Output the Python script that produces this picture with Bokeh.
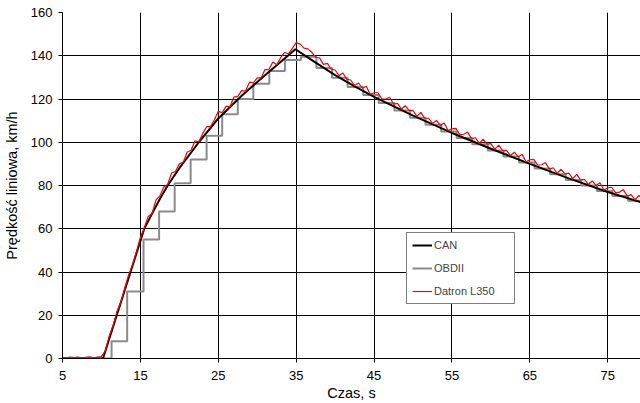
import numpy as np
from bokeh.plotting import figure
from bokeh.models import Range1d, Legend, LegendItem, FixedTicker
from bokeh.embed import file_html
from bokeh.resources import INLINE

# CAN speed (s, km/h)
can_t = [5, 10.2, 15.5, 16.5, 17.5, 18.5, 20, 22.5, 25, 28, 31, 34.9, 37.5, 40,
         42.5, 45, 50, 55, 60, 65, 70, 75, 79.5]
can_v = [0, 0, 60, 67, 73.8, 80, 88, 100, 111, 121.5, 131, 143, 136.8, 131,
         125.8, 121, 112.3, 104.3, 97, 90, 83.3, 77, 72.0]

# OBDII stepped readings (value held from each time)
obd_t = [5, 11.3, 13.3, 15.4, 17.4, 19.4, 21.45, 23.5, 25.5, 27.5, 29.5, 31.55,
         33.55, 35.6, 37.6, 39.6, 41.6, 43.6, 45.6, 47.6, 49.6, 51.6, 53.6, 55.6,
         57.6, 59.6, 61.6, 63.6, 65.6, 67.6, 69.6, 71.6, 73.6, 75.6, 77.6, 79.6]
obd_v = [0, 8, 31, 55, 68, 81, 92, 103, 113, 120, 127, 133,
         138, 139.5, 134.3, 129.8, 125.6, 121.8, 118.2, 114.7, 111.3, 108.1, 105.0, 102.0,
         99.1, 96.2, 93.4, 90.6, 87.9, 85.2, 82.6, 80.0, 77.5, 75.2, 73.0, 71.0]

# Datron L350, sampled every 0.5 s from 5.0 s
datron_v = [
    0.5, 0.3, 0.7, 0.4, 0.6, 0.2, 0.5, 0.8, 0.3, 0.6,
    0.9, 3.6, 10.4, 15.3, 21.9, 26.1, 32.7, 38.8, 43.4, 49.5,
    56.0, 60.5, 65.7, 67.1, 73.3, 75.2, 79.3, 80.5, 85.8, 86.5,
    90.0, 90.8, 95.4, 96.3, 100.6, 100.2, 104.1, 107.2, 107.3, 110.4,
    114.3, 113.7, 116.7, 116.4, 120.9, 121.2, 123.9, 123.6, 127.8, 127.5,
    129.8, 129.8, 133.6, 133.6, 137.1, 135.8, 139.1, 141.5, 140.9, 143.4,
    146.1, 145.4, 143.5, 143.2, 141.6, 139.2, 139.0, 136.0, 136.5, 133.8,
    133.4, 130.8, 132.0, 129.1, 128.8, 126.2, 127.4, 125.0, 125.9, 122.2,
    122.9, 122.9, 120.0, 120.0, 120.8, 117.6, 118.0, 115.4, 116.9, 114.6,
    114.7, 112.0, 113.8, 111.1, 111.1, 108.7, 110.1, 107.8, 108.9, 105.4,
    106.2, 106.4, 103.5, 103.7, 104.7, 101.6, 102.1, 99.5, 101.4, 99.1,
    99.4, 96.8, 98.7, 96.1, 96.2, 93.9, 95.4, 93.2, 94.4, 91.0,
    91.9, 92.1, 89.4, 89.6, 90.6, 87.6, 88.2, 85.6, 87.5, 85.4,
    85.7, 83.2, 85.1, 82.6, 82.8, 80.6, 82.1, 80.0, 81.3, 77.9,
    78.9, 79.2, 76.6, 76.9, 78.1, 75.1, 75.8, 73.4, 75.4, 73.4,
]
datron_start, datron_step = 5.0, 0.5
datron_t = [datron_start + datron_step * i for i in range(len(datron_v))]

x_ticks = [5, 15, 25, 35, 45, 55, 65, 75]
y_ticks = [0, 20, 40, 60, 80, 100, 120, 140, 160]

FONT = "Liberation Sans"

p = figure(width=640, height=403, output_backend="svg", toolbar_location=None,
           x_range=Range1d(5, 79.2), y_range=Range1d(0, 160),
           min_border_left=61, min_border_right=0, min_border_top=12,
           min_border_bottom=45)
p.background_fill_color = "white"
p.border_fill_color = "white"
p.outline_line_color = None

for ax in (p.xaxis[0], p.yaxis[0]):
    ax.axis_line_color = "black"
    ax.axis_line_width = 1
    ax.major_tick_line_color = "black"
    ax.major_tick_in = 0
    ax.major_tick_out = 4
    ax.minor_tick_line_color = None
    ax.major_label_text_font = FONT
    ax.major_label_text_font_size = "13px"
    ax.major_label_text_color = "black"
    ax.axis_label_text_font = FONT
    ax.axis_label_text_font_size = "14.5px"
    ax.axis_label_text_font_style = "normal"
    ax.axis_label_text_color = "black"

p.xaxis.ticker = FixedTicker(ticks=x_ticks)
p.yaxis.ticker = FixedTicker(ticks=y_ticks)
p.xaxis.axis_label = "Czas, s"
p.yaxis.axis_label = "Prędkość liniowa, km/h"
p.xaxis.major_label_standoff = 8
p.xaxis.axis_label_standoff = 2
p.yaxis.major_label_standoff = 6
p.yaxis.axis_label_standoff = 8

p.xgrid.ticker = FixedTicker(ticks=x_ticks)
p.ygrid.ticker = FixedTicker(ticks=y_ticks)
p.grid.grid_line_color = "black"
p.grid.grid_line_width = 1

r_obd = p.step(obd_t, obd_v, mode="after", line_color="#8a8a8a", line_width=2)
r_can = p.line(can_t, can_v, line_color="black", line_width=2)
r_dat = p.line(datron_t, datron_v, line_color="#ff0000", line_width=1.2)

legend = Legend(items=[LegendItem(label="CAN", renderers=[r_can]),
                       LegendItem(label="OBDII", renderers=[r_obd]),
                       LegendItem(label="Datron L350", renderers=[r_dat])],
                location=(344, 54), margin=0, padding=5, spacing=9,
                glyph_width=20, glyph_height=14, label_standoff=2,
                label_width=75,
                label_text_font=FONT, label_text_font_size="11px",
                border_line_color="black", border_line_width=1,
                background_fill_color="white", background_fill_alpha=1)
p.add_layout(legend, "center")

open("out.html", "w").write(file_html(p, INLINE))
